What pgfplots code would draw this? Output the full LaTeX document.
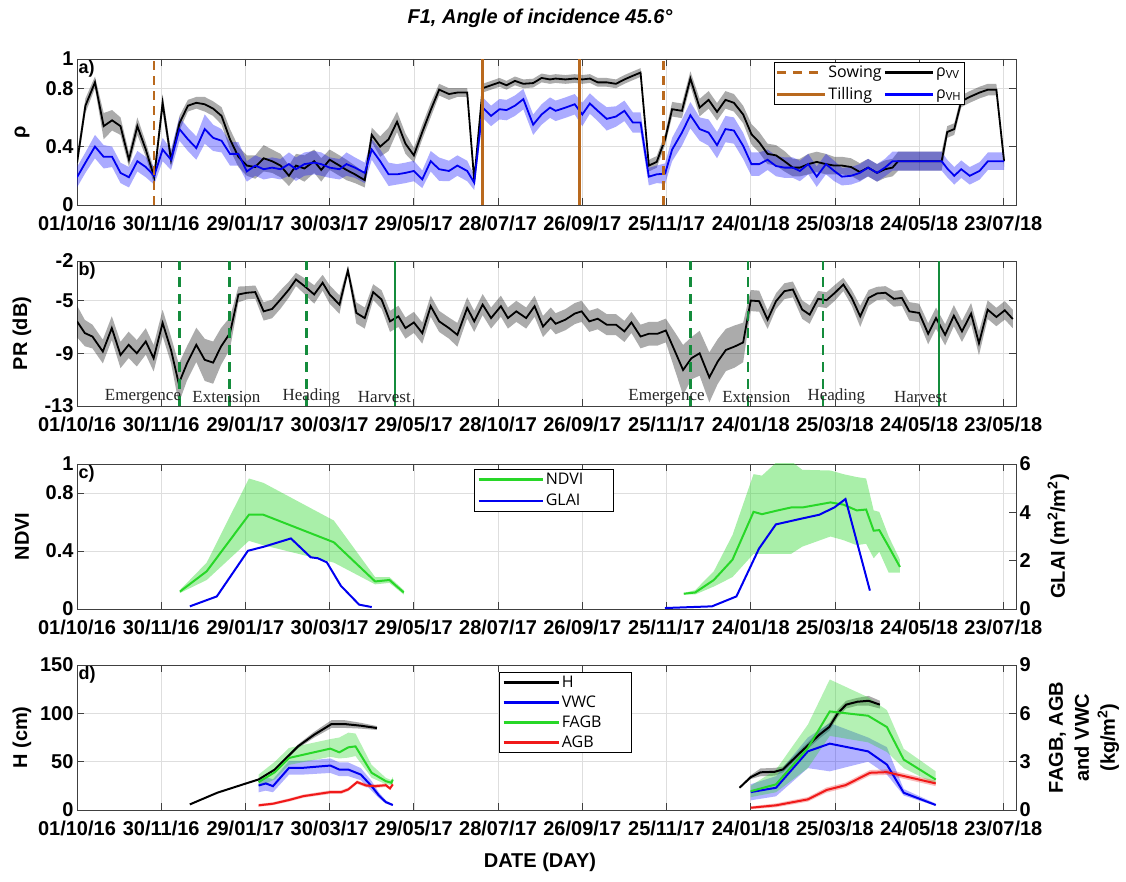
\documentclass[border=0pt]{standalone}
\usepackage{pgfplots}
\pgfplotsset{compat=1.18}
\usepackage{pgfplotstable}
\usepgfplotslibrary{fillbetween}
\usepackage{fontspec}
\setmainfont{Liberation Sans}
\newfontfamily\legfont{Open Sans}
\newfontfamily\annfont{Liberation Serif}

\definecolor{brn}{RGB}{185,105,30}
\definecolor{dgreen}{RGB}{20,140,60}
\definecolor{lgreen}{RGB}{40,215,40}
\definecolor{rred}{RGB}{240,25,25}
\definecolor{bblue}{RGB}{0,0,240}

% ---------------- panel a ----------------
\pgfplotstableread{
d vv evv vh evh
0 0.29 0.05 0.19 0.07
6 0.68 0.05 0.29 0.07
12.8 0.84 0.04 0.40 0.08
19 0.54 0.09 0.33 0.08
25 0.58 0.07 0.33 0.07
31 0.54 0.06 0.22 0.07
37 0.31 0.05 0.19 0.07
43 0.54 0.06 0.30 0.07
49 0.38 0.05 0.26 0.07
55 0.19 0.05 0.20 0.06
61 0.70 0.06 0.38 0.08
67 0.31 0.05 0.31 0.07
73 0.56 0.05 0.52 0.08
79 0.68 0.04 0.45 0.08
85 0.70 0.04 0.39 0.08
91 0.69 0.05 0.52 0.10
97 0.66 0.05 0.46 0.09
103 0.61 0.06 0.44 0.08
109 0.45 0.07 0.35 0.08
115 0.33 0.07 0.35 0.08
121 0.27 0.07 0.23 0.07
127 0.26 0.08 0.27 0.07
133 0.32 0.09 0.245 0.07
139 0.30 0.08 0.256 0.07
145 0.27 0.08 0.245 0.07
151 0.20 0.07 0.28 0.08
156 0.27 0.08 0.245 0.08
162 0.25 0.09 0.28 0.08
169 0.30 0.08 0.29 0.08
174 0.24 0.08 0.28 0.08
180 0.31 0.07 0.256 0.07
187 0.27 0.07 0.245 0.07
192 0.24 0.07 0.28 0.08
198 0.21 0.06 0.256 0.07
205 0.17 0.05 0.22 0.07
210 0.48 0.05 0.38 0.07
216 0.40 0.07 0.30 0.08
222 0.45 0.08 0.21 0.08
228 0.57 0.07 0.21 0.07
234 0.42 0.07 0.22 0.07
240 0.34 0.05 0.233 0.07
246 0.50 0.05 0.176 0.06
252 0.65 0.05 0.30 0.07
258 0.79 0.04 0.245 0.08
265 0.76 0.04 0.233 0.07
271 0.77 0.03 0.27 0.07
278 0.77 0.03 0.233 0.07
283 0.17 0.04 0.153 0.05
289 0.80 0.03 0.667 0.07
295 0.82 0.03 0.61 0.07
301 0.84 0.03 0.656 0.07
306 0.82 0.03 0.65 0.07
312 0.85 0.03 0.68 0.07
318 0.83 0.03 0.725 0.07
325 0.835 0.03 0.55 0.07
331 0.87 0.03 0.62 0.07
337 0.86 0.03 0.667 0.07
341 0.866 0.03 0.645 0.07
348 0.86 0.03 0.667 0.07
354.6 0.866 0.03 0.69 0.07
360 0.86 0.03 0.62 0.08
365.4 0.866 0.03 0.695 0.07
371 0.84 0.03 0.645 0.07
377.4 0.84 0.03 0.59 0.08
384 0.83 0.03 0.606 0.07
390 0.86 0.03 0.645 0.07
396 0.885 0.03 0.565 0.07
401.5 0.907 0.03 0.565 0.07
407.4 0.27 0.04 0.194 0.06
413 0.295 0.04 0.21 0.06
419 0.45 0.04 0.215 0.07
424 0.656 0.05 0.38 0.08
431 0.645 0.05 0.496 0.09
437 0.866 0.05 0.615 0.09
443.6 0.667 0.06 0.52 0.08
450 0.72 0.06 0.496 0.09
456 0.638 0.06 0.41 0.09
462 0.72 0.06 0.52 0.09
468 0.70 0.06 0.51 0.09
474.6 0.62 0.06 0.405 0.09
480.5 0.485 0.07 0.28 0.08
486 0.43 0.07 0.28 0.08
492 0.35 0.07 0.31 0.07
498 0.34 0.07 0.267 0.07
504 0.30 0.07 0.256 0.07
510 0.256 0.06 0.256 0.07
515 0.256 0.06 0.233 0.07
521 0.28 0.07 0.28 0.07
527 0.295 0.07 0.194 0.07
533.6 0.28 0.07 0.28 0.07
539.5 0.27 0.06 0.233 0.07
545 0.27 0.06 0.194 0.06
551.5 0.26 0.06 0.20 0.06
557.7 0.226 0.06 0.22 0.06
563.6 0.256 0.06 0.256 0.06
570 0.22 0.06 0.22 0.06
575.6 0.245 0.06 0.256 0.06
581 0.256 0.06 0.30 0.065
585 0.30 0.065 0.30 0.065
616 0.30 0.065 0.30 0.065
620 0.50 0.04 0.25 0.06
625 0.52 0.04 0.20 0.06
630 0.71 0.04 0.245 0.06
636 0.74 0.04 0.20 0.06
643 0.77 0.04 0.233 0.06
649 0.79 0.04 0.30 0.06
655 0.79 0.04 0.30 0.06
660.5 0.30 0.04 0.30 0.06
}\tA

% ---------------- panel b ----------------
\pgfplotstableread{
d pr e
0 -6.58 1.2
5.6 -7.47 1.0
11 -7.73 0.9
18.4 -8.87 0.9
24.8 -7.09 0.9
31 -9.13 1.0
36.8 -8.36 1.0
42.6 -9.0 1.0
49 -8.1 1.0
54.6 -9.38 1.0
61 -6.7 1.0
67 -8.75 1.0
72.5 -11.3 1.5
78.4 -9.76 1.3
85 -8.36 1.3
91 -9.5 1.6
97 -9.71 1.6
102.6 -8.49 1.4
109 -7.47 1.2
115 -4.54 0.6
121 -4.41 0.5
127 -4.36 0.5
133 -5.82 0.7
139 -5.64 0.7
145 -4.92 0.7
151 -4.16 0.6
156 -3.40 0.5
162 -3.90 0.6
169 -4.54 0.7
175 -3.65 0.6
180 -4.54 0.7
187 -5.31 0.7
193 -2.71 0.3
199 -5.94 0.8
205 -6.33 0.8
211 -4.36 0.6
217 -4.92 0.7
223 -6.58 0.8
229 -6.2 0.8
234 -7.09 0.8
240 -6.66 0.8
246 -7.47 0.8
252 -5.43 0.8
258 -6.58 0.8
265 -7.09 0.8
271 -7.6 0.9
278 -5.56 0.8
283 -6.58 0.8
289 -5.31 0.8
295 -6.33 0.8
302 -5.43 0.8
307 -6.33 0.8
313 -5.82 0.8
320 -6.33 0.8
326 -5.43 0.8
332 -6.97 0.8
337.5 -6.33 0.8
341 -6.76 0.8
348 -6.45 0.8
354.6 -5.99 0.8
359.5 -5.82 0.8
365 -6.58 0.8
371 -6.38 0.8
377.4 -6.83 0.8
384 -6.83 0.8
390 -7.34 0.8
395 -6.66 0.8
401.5 -7.73 0.9
407.4 -7.52 0.9
413.6 -7.52 0.9
419.5 -7.27 0.9
425.6 -8.75 1.4
431.8 -10.27 1.9
437.7 -9.38 1.6
443.6 -9.0 1.7
450.5 -10.83 1.9
456.4 -9.64 1.7
462.3 -8.75 1.6
468.5 -8.49 1.6
474.6 -8.18 1.5
480 -5.0 0.8
486 -5.05 0.8
492 -6.45 0.7
498 -5.05 0.6
504 -4.29 0.6
510 -4.16 0.6
516.7 -5.69 0.7
522 -6.07 0.7
528 -4.87 0.6
534 -4.97 0.6
540 -4.41 0.6
546 -3.78 0.5
552 -4.80 0.6
558 -6.2 0.8
564 -4.80 0.6
570 -4.46 0.5
576 -4.41 0.5
582 -4.87 0.6
587.7 -4.80 0.6
593 -5.82 0.7
600 -5.94 0.7
606.4 -7.52 0.8
612 -6.33 0.8
618.5 -7.6 0.8
624.7 -6.15 0.8
630.5 -7.34 0.8
637 -5.99 0.8
642.6 -8.24 0.9
648.8 -5.69 0.7
655 -6.25 0.7
661 -5.74 0.7
666.7 -6.4 0.7
}\tB

% ---------------- panel c ----------------
\pgfplotstableread{
d v lo hi
73.3 0.12 0.11 0.13
92.4 0.26 0.20 0.32
122.5 0.65 0.47 0.90
132.8 0.65 0.44 0.87
183 0.46 0.32 0.61
212.4 0.19 0.17 0.22
222.6 0.20 0.18 0.22
232.8 0.114 0.10 0.13
}\tNa
\pgfplotstableread{
d v lo hi
432.3 0.105 0.10 0.11
440.4 0.114 0.10 0.13
453.7 0.20 0.155 0.26
467 0.34 0.22 0.51
482 0.67 0.38 0.93
488 0.654 0.38 0.92
499.3 0.68 0.38 1.02
508.7 0.70 0.38 1.02
516.7 0.70 0.43 0.96
536.8 0.735 0.50 0.955
546 0.72 0.475 0.93
555.5 0.68 0.44 0.91
562.2 0.686 0.45 0.90
567.6 0.54 0.35 0.68
571.6 0.544 0.395 0.67
578.3 0.43 0.25 0.50
586.3 0.29 0.25 0.34
}\tNb
\pgfplotstableread{
d v
80.4 0.11
99.6 0.52
121.8 2.41
133.3 2.58
152.4 2.92
166.5 2.14
171.6 2.1
178 1.93
188 0.96
201 0.18
210 0.08
}\tGa
\pgfplotstableread{
d v
418.9 0.04
452.4 0.11
469.8 0.52
485.9 2.5
497.9 3.5
515.4 3.73
528.8 3.9
539.5 4.2
547.5 4.55
564.9 0.76
}\tGb

% ---------------- panel d ----------------
\pgfplotstableread{
d v lo hi
80.4 5.8 5.3 6.3
100 17.9 17.4 18.4
120.5 27.5 27.0 28.0
129.4 31.6 31.0 32.2
141 41.9 40.9 42.9
157.5 65.9 63.9 67.9
169 77.9 74.9 80.9
181.3 88.9 84.9 92.9
190.7 88.9 84.9 92.9
202.2 87.2 84.2 90.2
213.7 84.8 82.8 86.8
}\tHa
\pgfplotstableread{
d v lo hi
472 23 22.5 23.5
480 34 32 36
487 39 35 43
497 39.5 35.5 43.5
503 42 39 45
515 59 56 62
529 78 74 82
536 86 82 90
542 100 96 104
548 109 105 113
556 112 108 116
564 113 108 118
572 109 105 113
}\tHb
\pgfplotstableread{
d v lo hi
129.4 1.52 1.10 1.95
134.5 1.65 1.20 2.05
139.6 1.48 1.10 1.90
151.1 2.62 2.20 3.05
161.3 2.62 2.20 3.05
180.5 2.76 2.30 3.20
186.9 2.51 2.10 2.95
193.3 2.51 2.10 2.95
202.2 2.20 1.85 2.60
209.9 1.48 1.20 1.80
215 0.91 0.75 1.10
220 0.49 0.40 0.60
225 0.31 0.25 0.37
}\tVa
\pgfplotstableread{
d v lo hi
480 1.11 0.60 1.60
498 1.38 0.85 2.10
520.7 3.64 2.60 4.50
536.3 4.12 2.40 5.40
563.6 3.64 3.00 4.50
577 2.82 2.20 3.90
589 1.07 0.90 1.30
611.8 0.31 0.25 0.40
}\tVb
\pgfplotstableread{
d v lo hi
129.4 1.73 1.45 2.20
141 2.35 1.90 3.00
151 3.23 2.80 3.85
180.5 3.81 3.30 4.40
186.9 3.58 3.20 4.50
193.3 3.89 3.25 4.80
198.4 3.95 3.35 4.75
209.9 2.31 2.00 2.80
220 1.79 1.60 2.00
224 1.69 1.55 1.85
225 1.89 1.75 2.05
}\tFa
\pgfplotstableread{
d v lo hi
480 1.17 0.80 1.50
498 1.59 1.10 2.50
520.7 3.85 2.60 5.30
536.3 6.12 4.60 8.10
563.6 5.85 4.20 7.00
577 5.15 3.60 6.20
589 3.13 2.60 3.80
611.8 1.89 1.60 2.40
}\tFb
\pgfplotstableread{
d v lo hi
129.4 0.29 0.20 0.38
139.6 0.39 0.30 0.48
151 0.62 0.52 0.72
161.3 0.86 0.76 0.96
180.5 1.11 1.00 1.22
188.2 1.11 1.00 1.22
193.3 1.28 1.17 1.39
199.6 1.73 1.62 1.84
206 1.52 1.41 1.63
212.4 1.48 1.37 1.59
220 1.54 1.43 1.65
223 1.34 1.24 1.44
225 1.59 1.48 1.70
}\tAa
\pgfplotstableread{
d v lo hi
480 0.14 0.05 0.23
498 0.29 0.17 0.41
520.7 0.66 0.52 0.80
534 1.24 1.08 1.40
547.5 1.54 1.38 1.70
565 2.31 2.14 2.48
577 2.35 2.18 2.52
611.8 1.65 1.48 1.82
}\tAb

\newcommand{\bandlh}[3]{% table, color, opacity
  \addplot[name path=U, draw=none, forget plot] table[x=d,y=hi] {#1};
  \addplot[name path=L, draw=none, forget plot] table[x=d,y=lo] {#1};
  \addplot[fill=#2, fill opacity=#3, draw=none, forget plot] fill between[of=U and L];
}

\tikzset{plabel/.style={anchor=north west, font=\fontsize{18}{18}\selectfont\bfseries, inner sep=1.5pt}}

\pgfplotsset{
  panel/.style={
    scale only axis, width=939pt, height=145pt, anchor=south west,
    xmin=0, xmax=669, xtick={0,60,...,660},
    axis line style={draw=black!75, line width=0.8pt},
    every tick/.style={black!75, line width=0.8pt},
    major tick length=7pt,
    grid=major, grid style={black!13, line width=0.7pt},
    tick label style={font=\fontsize{20}{20}\selectfont\bfseries},
    xticklabel style={yshift=-7pt},
    label style={font=\fontsize{20}{20}\selectfont\bfseries},
    ylabel style={at={(axis description cs:-0.0586,0.5)}, anchor=center},
    legend style={draw=black, line width=0.6pt, fill=white,
      font=\legfont\fontsize{16}{18}\selectfont, inner sep=1.5pt,
      row sep=4.5pt},
    legend cell align=left,
    legend image code/.code={\draw[#1] (0pt,0pt) -- (48pt,0pt);},
  },
  dates/.style={xticklabels={01/10/16,30/11/16,29/01/17,30/03/17,29/05/17,28/07/17,26/09/17,25/11/17,24/01/18,25/03/18,24/05/18,23/07/18}},
}

\begin{document}
\begin{tikzpicture}
\path (0,0) rectangle (1126pt,881pt);
\node[font=\fontsize{20}{20}\selectfont\bfseries\itshape] at (540pt,863pt) {F1, Angle of incidence 45.6°};

% ===== a =====
\begin{axis}[panel, dates, at={(77pt,676pt)}, height=146pt,
  ymin=0, ymax=1, ytick={0,0.4,0.8,1}, yticklabels={0,0.4,0.8,1},
  ylabel={ρ}, legend columns=2,
  legend style={at={(0.9457,0.979)}, anchor=north east},
  /tikz/every even column/.append style={column sep=0pt}]
\addplot[name path=vvU, draw=none, forget plot] table[x=d, y expr=\thisrow{vv}+\thisrow{evv}] {\tA};
\addplot[name path=vvL, draw=none, forget plot] table[x=d, y expr=\thisrow{vv}-\thisrow{evv}] {\tA};
\addplot[fill=black, fill opacity=0.33, draw=none, forget plot] fill between[of=vvU and vvL];
\addplot[name path=vhU, draw=none, forget plot] table[x=d, y expr=\thisrow{vh}+\thisrow{evh}] {\tA};
\addplot[name path=vhL, draw=none, forget plot] table[x=d, y expr=\thisrow{vh}-\thisrow{evh}] {\tA};
\addplot[fill=blue, fill opacity=0.33, draw=none, forget plot] fill between[of=vhU and vhL];
\addplot[black, line width=1.8pt, forget plot] table[x=d,y=vv] {\tA};
\addplot[bblue, line width=1.8pt, forget plot] table[x=d,y=vh] {\tA};
\addplot[brn, line width=2.5pt, dash pattern=on 9pt off 6pt, forget plot] coordinates {(55,0) (55,1)};
\addplot[brn, line width=2.5pt, dash pattern=on 9pt off 6pt, forget plot] coordinates {(418,0) (418,1)};
\addplot[brn, line width=2.5pt, forget plot] coordinates {(289,0) (289,1)};
\addplot[brn, line width=2.5pt, forget plot] coordinates {(358,0) (358,1)};
\addlegendimage{brn, line width=2.5pt, dash pattern=on 9pt off 7pt}
\addlegendentry{Sowing}
\addlegendimage{black, line width=2.5pt}
\addlegendentry{ρ\textsubscript{VV}}
\addlegendimage{brn, line width=2.5pt}
\addlegendentry{Tilling}
\addlegendimage{blue, line width=2.5pt}
\addlegendentry{ρ\textsubscript{VH}}
\node[plabel] at (rel axis cs:0,1) {a)};
\end{axis}

% ===== b =====
\begin{axis}[panel, at={(77pt,475pt)},
  xticklabels={01/10/16,30/11/16,29/01/17,30/03/17,29/05/17,28/10/17,26/09/17,25/11/17,24/01/18,25/03/18,24/05/18,23/05/18},
  ymin=-13, ymax=-2, ytick={-13,-9,-5,-2}, yticklabels={-13,-9,-5,-2},
  ylabel={PR (dB)}]
\addplot[name path=pU, draw=none, forget plot] table[x=d, y expr=\thisrow{pr}+\thisrow{e}] {\tB};
\addplot[name path=pL, draw=none, forget plot] table[x=d, y expr=\thisrow{pr}-\thisrow{e}] {\tB};
\addplot[fill=black, fill opacity=0.33, draw=none, forget plot] fill between[of=pU and pL];
\addplot[black, line width=1.8pt, forget plot] table[x=d,y=pr] {\tB};
\addplot[dgreen, line width=2.6pt, dash pattern=on 10pt off 7pt, forget plot] coordinates {(73,-13) (73,-2)};
\addplot[dgreen, line width=2.6pt, dash pattern=on 10pt off 7pt, forget plot] coordinates {(108.5,-13) (108.5,-2)};
\addplot[dgreen, line width=2.6pt, dash pattern=on 10pt off 7pt, forget plot] coordinates {(163.4,-13) (163.4,-2)};
\addplot[dgreen, line width=2.6pt, dash pattern=on 10pt off 7pt, forget plot] coordinates {(437,-13) (437,-2)};
\addplot[dgreen, line width=2.6pt, dash pattern=on 10pt off 7pt, forget plot] coordinates {(478,-13) (478,-2)};
\addplot[dgreen, line width=2.6pt, dash pattern=on 10pt off 7pt, forget plot] coordinates {(531.4,-13) (531.4,-2)};
\addplot[dgreen, line width=1.8pt, forget plot] coordinates {(226.5,-13) (226.5,-2)};
\addplot[dgreen, line width=1.8pt, forget plot] coordinates {(614,-13) (614,-2)};
\begin{scope}[every node/.style={font=\annfont\fontsize{17}{17}\selectfont, text=black!85}]
\node at (axis cs:47,-12.3) {Emergence};
\node at (axis cs:106.5,-12.3) {Extension};
\node at (axis cs:167,-12.3) {Heading};
\node at (axis cs:219,-12.3) {Harvest};
\node at (axis cs:420,-12.3) {Emergence};
\node at (axis cs:484,-12.3) {Extension};
\node at (axis cs:541,-12.3) {Heading};
\node at (axis cs:601,-12.3) {Harvest};
\end{scope}
\node[plabel] at (rel axis cs:0,1) {b)};
\end{axis}

% ===== c =====
\begin{axis}[panel, dates, at={(77pt,272pt)},
  ymin=0, ymax=1, ytick={0,0.4,0.8,1}, yticklabels={0,0.4,0.8,1}, ytick pos=left,
  ylabel={NDVI}]
\bandlh{\tNa}{lgreen}{0.4}
\bandlh{\tNb}{lgreen}{0.4}
\addplot[lgreen, line width=2pt, forget plot] table[x=d,y=v] {\tNa};
\addplot[lgreen, line width=2pt, forget plot] table[x=d,y=v] {\tNb};
\node[plabel] at (rel axis cs:0,1) {c)};
\end{axis}
\begin{axis}[panel, at={(77pt,272pt)}, hide x axis, axis y line*=right, grid=none,
  ymin=0, ymax=6, ytick={0,2,4,6}, yticklabels={0,2,4,6},
  ylabel={GLAI (m\textsuperscript{2}/m\textsuperscript{2})},
  ylabel style={at={(axis description cs:1.045,0.5)}, anchor=center},
  legend image code/.code={\draw[#1] (0pt,0pt) -- (64pt,0pt);},
  legend style={at={(0.4228,0.9655)}, anchor=north west, inner xsep=3pt}]
\addplot[bblue, line width=2pt, forget plot] table[x=d,y=v] {\tGa};
\addplot[bblue, line width=2pt, forget plot] table[x=d,y=v] {\tGb};
\addlegendimage{lgreen, line width=2.5pt}
\addlegendentry{\makebox[62pt][l]{NDVI}}
\addlegendimage{bblue, line width=2.5pt}
\addlegendentry{\makebox[62pt][l]{GLAI}}
\end{axis}

% ===== d =====
\begin{axis}[panel, dates, at={(77pt,71pt)},
  ymin=0, ymax=150, ytick={0,50,100,150}, yticklabels={0,50,100,150}, ytick pos=left,
  ylabel={H (cm)}, xlabel={DATE (DAY)},
  xlabel style={at={(axis description cs:0.493,-0.36)}, anchor=center}]
\bandlh{\tHa}{black}{0.33}
\bandlh{\tHb}{black}{0.33}
\addplot[black, line width=2pt, forget plot] table[x=d,y=v] {\tHa};
\addplot[black, line width=2pt, forget plot] table[x=d,y=v] {\tHb};
\node[plabel] at (rel axis cs:0,1) {d)};
\end{axis}
\begin{axis}[panel, at={(77pt,71pt)}, hide x axis, axis y line*=right, grid=none,
  ymin=0, ymax=9, ytick={0,3,6,9}, yticklabels={0,3,6,9},
  ylabel={FAGB, AGB\\and VWC\\(kg/m\textsuperscript{2})},
  ylabel style={at={(axis description cs:1.0724,0.5)}, anchor=center, align=center,
    font=\fontsize{20}{26}\selectfont\bfseries},
  legend image code/.code={\draw[#1] (0pt,0pt) -- (55pt,0pt);},
  legend style={at={(0.4494,0.9517)}, anchor=north west, inner xsep=3pt, row sep=3pt}]
\bandlh{\tVa}{blue}{0.3}
\bandlh{\tVb}{blue}{0.3}
\bandlh{\tFa}{lgreen}{0.35}
\bandlh{\tFb}{lgreen}{0.35}
\bandlh{\tAa}{rred}{0.3}
\bandlh{\tAb}{rred}{0.3}
\addplot[bblue, line width=2pt, forget plot] table[x=d,y=v] {\tVa};
\addplot[bblue, line width=2pt, forget plot] table[x=d,y=v] {\tVb};
\addplot[lgreen, line width=2pt, forget plot] table[x=d,y=v] {\tFa};
\addplot[lgreen, line width=2pt, forget plot] table[x=d,y=v] {\tFb};
\addplot[rred, line width=2pt, forget plot] table[x=d,y=v] {\tAa};
\addplot[rred, line width=2pt, forget plot] table[x=d,y=v] {\tAb};
\addlegendimage{black, line width=2.5pt}
\addlegendentry{\makebox[64pt][l]{H}}
\addlegendimage{bblue, line width=2.5pt}
\addlegendentry{\makebox[64pt][l]{VWC}}
\addlegendimage{lgreen, line width=2.5pt}
\addlegendentry{\makebox[64pt][l]{FAGB}}
\addlegendimage{rred, line width=2.5pt}
\addlegendentry{\makebox[64pt][l]{AGB}}
\end{axis}
\end{tikzpicture}
\end{document}
